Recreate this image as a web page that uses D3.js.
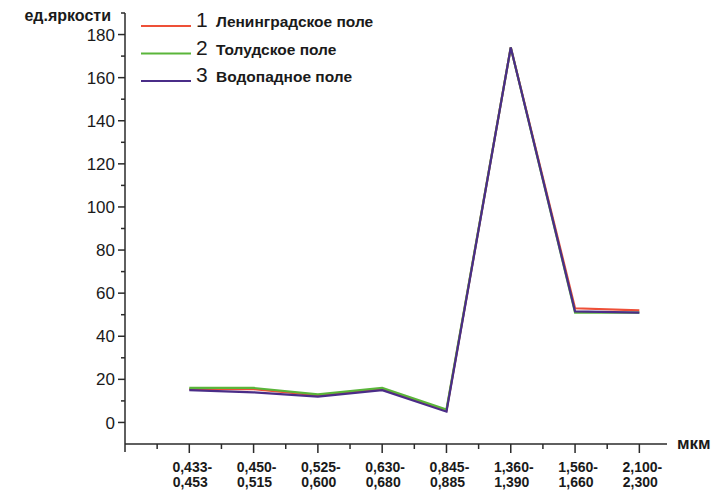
<!DOCTYPE html>
<html>
<head>
<meta charset="utf-8">
<script src="https://cdn.jsdelivr.net/npm/d3@7"></script>
<style>
  body { margin: 0; background: #fff; }
  text { font-family: "Liberation Sans", Arial, sans-serif; fill: #1a1a1a; }
</style>
</head>
<body>
<svg id="chart" width="714" height="494"></svg>
<script>
// band labels (two lines each)
const bandTop = ["0,433-", "0,450-", "0,525-", "0,630-", "0,845-", "1,360-", "1,560-", "2,100-"];
const bandBottom = ["0,453", "0,515", "0,600", "0,680", "0,885", "1,390", "1,660", "2,300"];

const leningrad = [15.5, 15.5, 12.5, 15.5, 5.5, 174, 53, 52];
const toludsk = [16, 16, 13, 16, 6, 174, 51, 51];
const vodopad = [15, 14, 12, 15, 5, 174, 51.5, 51];

const seriesNames = ["Ленинградское поле", "Толудское поле", "Водопадное поле"];
const seriesColors = ["#ee5038", "#5ab53a", "#4a2d88"];
const yTicks = [0, 20, 40, 60, 80, 100, 120, 140, 160, 180];

const series = [leningrad, toludsk, vodopad];

const svg = d3.select("#chart");

const x = d3.scaleLinear().domain([-1, 7.43]).range([125, 667]);
const y = d3.scaleLinear().domain([-10, 190]).range([444, 13]);

const axisColor = "#2a2a2a";

// y axis
const gy = svg.append("g").attr("transform", "translate(125,0)");
gy.append("line")
  .attr("x1", 0).attr("x2", 0)
  .attr("y1", y(190)).attr("y2", y(-10) + 8)
  .attr("stroke", axisColor).attr("stroke-width", 1.5);

gy.selectAll("line.major").data(yTicks).enter().append("line")
  .attr("class", "major")
  .attr("x1", -7).attr("x2", 0)
  .attr("y1", d => y(d)).attr("y2", d => y(d))
  .attr("stroke", axisColor).attr("stroke-width", 1.5);

gy.selectAll("line.minor").data(d3.range(10, 200, 20)).enter().append("line")
  .attr("class", "minor")
  .attr("x1", -4).attr("x2", 0)
  .attr("y1", d => y(d)).attr("y2", d => y(d))
  .attr("stroke", axisColor).attr("stroke-width", 1.5);

gy.selectAll("text").data(yTicks).enter().append("text")
  .attr("x", -10)
  .attr("y", d => y(d))
  .attr("dy", "0.36em")
  .attr("text-anchor", "end")
  .style("font-size", "17px")
  .text(d => d);

svg.append("text")
  .attr("x", 111).attr("y", 21)
  .attr("text-anchor", "end")
  .style("font-size", "16px")
  .style("font-weight", "bold")
  .text("ед.яркости");

// x axis
const gx = svg.append("g").attr("transform", `translate(0,${y(-10)})`);
gx.append("line")
  .attr("x1", 125).attr("x2", 667)
  .attr("y1", 0).attr("y2", 0)
  .attr("stroke", axisColor).attr("stroke-width", 1.5);

gx.selectAll("line.major").data(d3.range(0, 8)).enter().append("line")
  .attr("class", "major")
  .attr("x1", d => x(d)).attr("x2", d => x(d))
  .attr("y1", 0).attr("y2", 9)
  .attr("stroke", axisColor).attr("stroke-width", 1.5);

gx.selectAll("line.minor").data(d3.range(-0.5, 7.5, 1)).enter().append("line")
  .attr("class", "minor")
  .attr("x1", d => x(d)).attr("x2", d => x(d))
  .attr("y1", 0).attr("y2", 5)
  .attr("stroke", axisColor).attr("stroke-width", 1.5);

const lbl = gx.selectAll("text.band").data(bandTop).enter().append("text")
  .attr("class", "band")
  .attr("text-anchor", "middle")
  .style("font-size", "14px")
  .style("font-weight", "bold");
lbl.append("tspan")
  .attr("x", (d, i) => x(i) + 3)
  .attr("y", 28)
  .text(d => d);
lbl.append("tspan")
  .attr("x", (d, i) => x(i) + 1)
  .attr("y", 42.5)
  .text((d, i) => bandBottom[i]);

svg.append("text")
  .attr("x", 677).attr("y", 449)
  .style("font-size", "17px")
  .style("font-weight", "bold")
  .text("мкм");

// lines
const line = d3.line()
  .x((d, i) => x(i))
  .y(d => y(d));

svg.selectAll("path.series").data(series).enter().append("path")
  .attr("class", "series")
  .attr("d", line)
  .attr("fill", "none")
  .attr("stroke", (d, i) => seriesColors[i])
  .attr("stroke-width", 2.2)
  .attr("stroke-linejoin", "miter");

// legend
const legendY = [26, 53.5, 81];
const lg = svg.selectAll("g.legend").data(seriesNames).enter().append("g")
  .attr("class", "legend")
  .attr("transform", (d, i) => `translate(141,${legendY[i]})`);

lg.append("line")
  .attr("x1", 0).attr("x2", 50)
  .attr("y1", 0).attr("y2", 0)
  .attr("stroke", (d, i) => seriesColors[i])
  .attr("stroke-width", 2);

const lt = lg.append("text")
  .attr("x", 55)
  .attr("y", 0)
  .attr("dy", "0.36em");
lt.append("tspan")
  .style("font-size", "21px")
  .attr("dy", "0.05em")
  .text((d, i) => i + 1);
lt.append("tspan")
  .attr("x", 75)
  .style("font-size", "15.5px")
  .style("font-weight", "bold")
  .text(d => d);
</script>
</body>
</html>
